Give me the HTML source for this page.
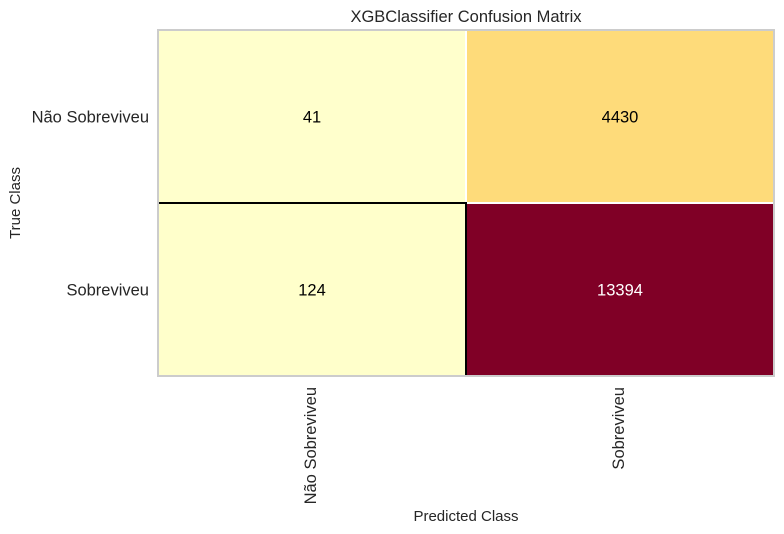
<!DOCTYPE html>
<html><head><meta charset="utf-8"><style>
body{margin:0;background:#fff;}
svg{display:block;font-family:"Liberation Sans",sans-serif;}
</style></head><body>
<svg id="chart" width="784" height="534"></svg>
<script>
const predictedClasses=["Não Sobreviveu","Sobreviveu"];
const trueClasses=["Não Sobreviveu","Sobreviveu"];
const row0=[41,4430];
const row1=[124,13394];
const ns="http://www.w3.org/2000/svg";
const svg=document.getElementById('chart');
const L=158,R=774,T=30,B=376;
const matrix=[row0,row1];
const maxV=Math.max(...row0,...row1);
const stops=[[255,255,204],[255,237,160],[254,217,118],[254,178,76],[253,141,60],[252,78,42],[227,26,28],[189,0,38],[128,0,38]];
function cmap(t){t=Math.max(0,Math.min(1,t));t=Math.pow(t,1.3);const p=t*(stops.length-1);const i=Math.min(Math.floor(p),stops.length-2);const f=p-i;
return 'rgb('+stops[i].map((c,k)=>Math.round(c+(stops[i+1][k]-c)*f)).join(',')+')';}
const cw=(R-L)/predictedClasses.length, ch=(B-T)/trueClasses.length;
const xPos=j=>L+j*cw, yPos=i=>T+i*ch;
function mk(tag,attrs,text){const e=document.createElementNS(ns,tag);for(const k in attrs)e.setAttribute(k,attrs[k]);if(text!==undefined)e.textContent=text;svg.appendChild(e);return e;}
matrix.forEach((row,i)=>row.forEach((v,j)=>{
  const r=mk('rect',{x:xPos(j),y:yPos(i),width:cw,height:ch,fill:cmap(v/maxV),stroke:'#fff','stroke-width':2});
  
  
  const t=mk('text',{x:xPos(j)+cw/2,y:yPos(i)+ch/2+6,'text-anchor':'middle','font-size':16.5,fill:v/maxV>0.6?'#fff':'#000'},v);
  
  
}));
const hl=mk('path',{d:`M${L} ${yPos(1)}H${xPos(1)}V${B}`,fill:'none',stroke:'#000','stroke-width':2});


const fr=mk('rect',{x:L,y:T,width:R-L,height:B-T,fill:'none',stroke:'#ccc','stroke-width':2});


trueClasses.forEach((c,i)=>{
  const t=mk('text',{x:149,y:yPos(i)+ch/2+6,'text-anchor':'end','font-size':16.5,fill:'#262626'},c);
  
  
});
predictedClasses.forEach((c,j)=>{
  const x=xPos(j)+cw/2+4;
  const t=mk('text',{x:x,y:387,'text-anchor':'end','font-size':16.5,fill:'#262626',transform:`rotate(-90 ${x} 387)`},c);
  
  
});
const ti=mk('text',{x:466,y:22,'text-anchor':'middle','font-size':16.5,fill:'#262626'},'XGBClassifier Confusion Matrix');


const xt=mk('text',{x:466,y:521,'text-anchor':'middle','font-size':15,fill:'#262626'},'Predicted Class');


const yt=mk('text',{x:20,y:203,'text-anchor':'middle','font-size':15,fill:'#262626',transform:'rotate(-90 20 203)'},'True Class');


</script>
</body></html>
